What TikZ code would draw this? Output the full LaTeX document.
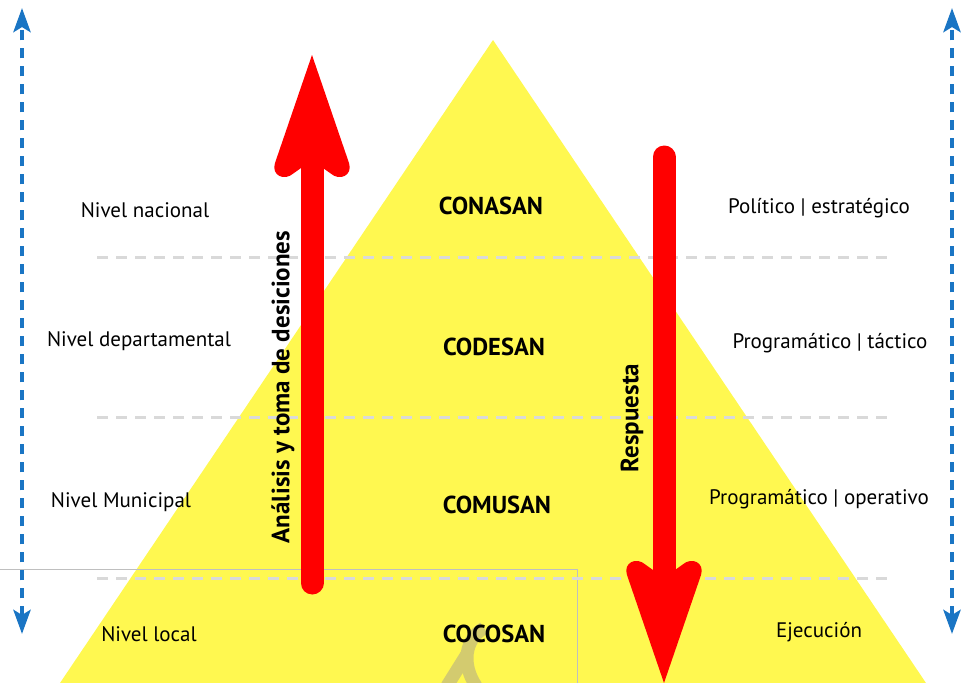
\documentclass[tikz,border=0pt]{standalone}
\usepackage{fontspec}
\setmainfont{PT Sans}
\usepackage{tikz}
\usetikzlibrary{arrows.meta}
\definecolor{piramide}{HTML}{FFF850}
\definecolor{flecha}{HTML}{FF0000}
\definecolor{azulnivel}{HTML}{1A75C4}
\definecolor{guion}{HTML}{D9D9D9}
\definecolor{marca}{HTML}{D3CB6F}
\tikzset{
  nivel/.style={font=\fontsize{21}{24}\selectfont},
  consejo/.style={font=\bfseries\fontsize{24.5}{28}\selectfont},
  leyenda/.style={font=\bfseries\fontsize{25}{28}\selectfont,rotate=90},
  separa/.style={guion,line width=3pt,dash pattern=on 11pt off 8pt},
  eje/.style={azulnivel,line width=4.5pt,dash pattern=on 10pt off 8pt,
    {Stealth[length=24pt,width=17pt,inset=5pt]}-{Stealth[length=24pt,width=17pt,inset=5pt]}},
  cuerpo/.style={flecha,line width=23pt,line cap=round},
  punta/.pic={\fill[flecha] (0,0) -- (37,108) .. controls (41,120) and (28,127) .. (18,118)
    -- (11,113) -- (-11,113) -- (-18,118) .. controls (-28,127) and (-41,120) .. (-37,108) -- cycle;}
}

\begin{document}
\begin{tikzpicture}[x=1pt,y=-1pt]
	\useasboundingbox (0,0) rectangle (967,683);
	\fill[piramide] (493,40) -- (926,683) -- (60,683) -- cycle;
	\draw[marca,line width=13pt] (447,686) -- (467,654);
	\draw[marca,line width=13pt] (476,686) .. controls (462,665) and (464,640) .. (484,628);
	\draw[black!25,line width=1pt] (-2,569) rectangle (577,690);
	\coordinate (sep1-a) at (97,257);
	\coordinate (sep1-b) at (890,257);
	\coordinate (sep2-a) at (97,417);
	\coordinate (sep2-b) at (890,417);
	\coordinate (sep3-a) at (97,578);
	\coordinate (sep3-b) at (890,578);
	\draw[separa] (sep1-a) -- (sep1-b);
	\draw[separa] (sep2-a) -- (sep2-b);
	\draw[separa] (sep3-a) -- (sep3-b);
	\coordinate (izq-arriba) at (22,8);
	\coordinate (izq-abajo) at (22,634);
	\coordinate (der-arriba) at (952,8);
	\coordinate (der-abajo) at (952,634);
	\draw[eje] (izq-abajo) -- (izq-arriba);
	\draw[eje] (der-abajo) -- (der-arriba);
	\node[nivel] (nacional) at (145,210) {Nivel nacional};
	\node[nivel] (departamental) at (139,341) {Nivel departamental};
	\node[nivel] (municipal) at (121,502) {Nivel Municipal};
	\node[nivel] (local) at (149,634) {Nivel local};
	\node[nivel,anchor=east] (corte) at (4,655) {a};
	\node[consejo] (conasan) at (491,206) {CONASAN};
	\node[consejo] (codesan) at (494,347) {CODESAN};
	\node[consejo] (comusan) at (497,505) {COMUSAN};
	\node[consejo] (cocosan) at (494,634) {COCOSAN};
	\node[nivel] (politico) at (819,208) {Político | estratégico};
	\node[nivel] (tactico) at (830,343) {Programático | táctico};
	\node[nivel] (operativo) at (819,499) {Programático | operativo};
	\node[nivel] (ejecucion) at (819,632) {Ejecución};
	\coordinate (analisis-ini) at (312,583);
	\coordinate (analisis-fin) at (312,165);
	\coordinate (analisis-punta) at (312,55);
	\draw[cuerpo] (analisis-ini) -- (analisis-fin);
	\pic at (analisis-punta) {punta};
	\coordinate (respuesta-ini) at (664,157);
	\coordinate (respuesta-fin) at (664,575);
	\coordinate (respuesta-punta) at (664,683);
	\draw[cuerpo] (respuesta-ini) -- (respuesta-fin);
	\pic[rotate=180] at (respuesta-punta) {punta};
	\node[leyenda] (analisis) at (283,387) {Análisis y toma de desiciones};
	\node[leyenda] (respuesta) at (632,418) {Respuesta};
\end{tikzpicture}
\end{document}
